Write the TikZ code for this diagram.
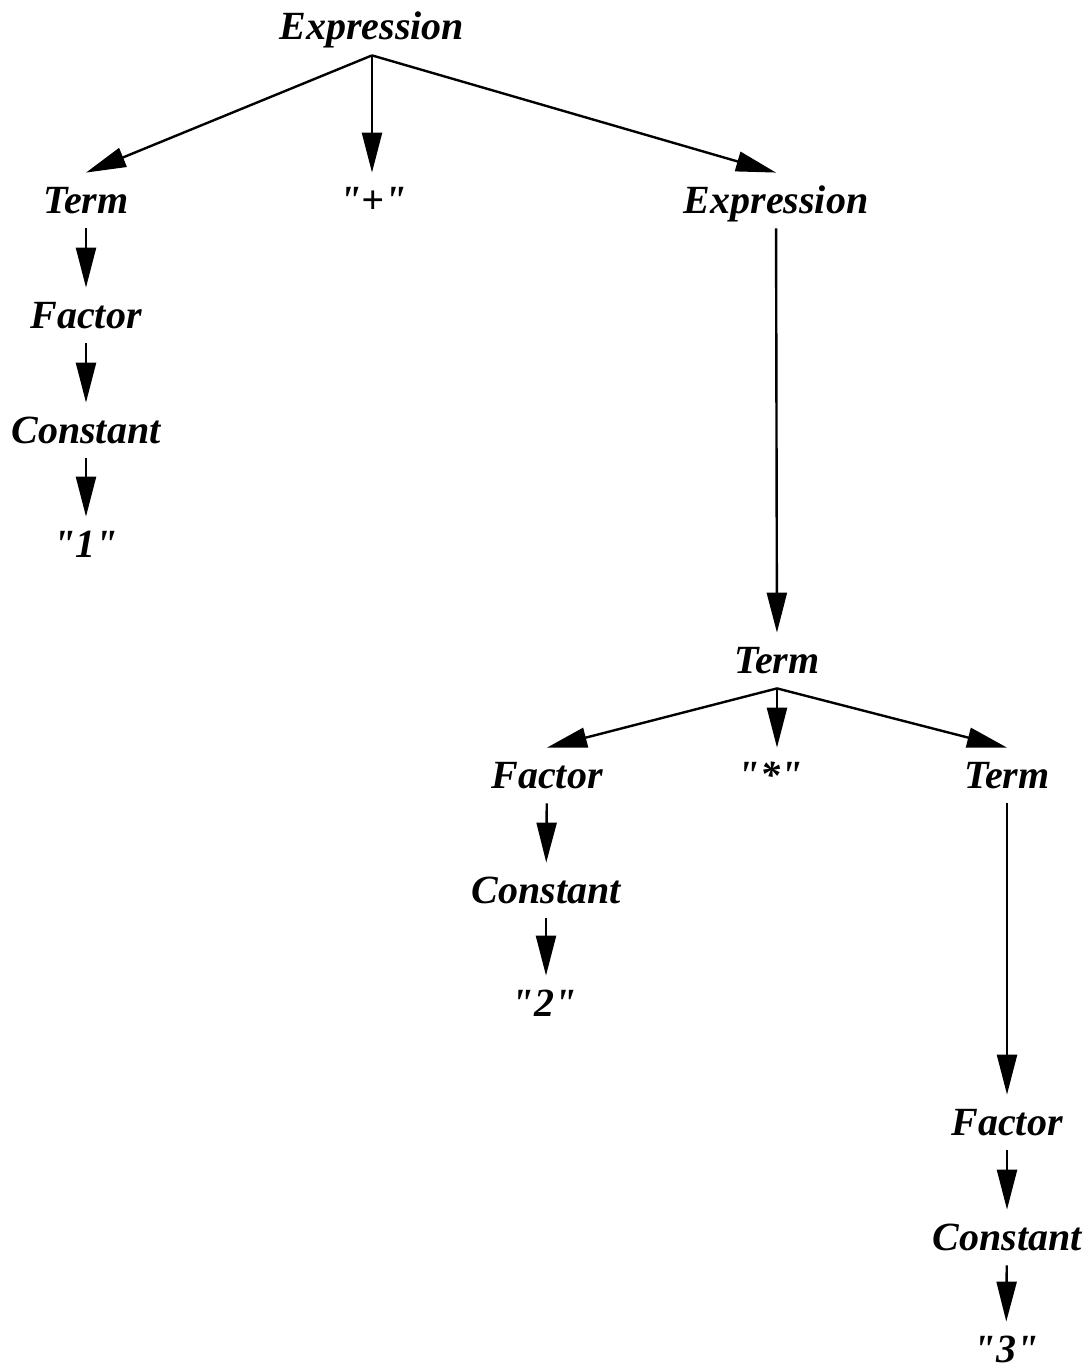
\documentclass[tikz,border=0pt]{standalone}
\usepackage{fontspec}
\setmainfont{Liberation Serif}[Ligatures=TeXOff]
\usetikzlibrary{arrows.meta}
\tikzset{
  sym/.style={anchor=base, inner sep=0pt, text height=20pt, text depth=7.5pt,
    font=\fontsize{20}{24}\selectfont\bfseries\itshape},
  arr/.style={line width=1.2pt, -{Triangle[length=20pt,width=10pt]}}
}

\begin{document}
\begin{tikzpicture}[x=0.5pt, y={(0pt,-0.5pt)}]
		%%%%% START %%%%%
		\useasboundingbox (0,0) rectangle (1091,1370);
		
		\node[sym] (expr) at (372, 40) {Expression};
		
		\node[sym] (term) at (86, 213) {Term};
		\node[sym] (plus) at (373, 213) {"+"};
		\node[sym] (exprb) at (776, 213) {Expression};
		
		\node[sym] (fact) at (86, 328) {Factor};
		\node[sym] (const) at (86, 443) {Constant};
		\node[sym] (one) at (86, 557) {"1"};
		
		\node[sym] (termb) at (777, 673) {Term};
		
		\node[sym] (factb) at (547, 788) {Factor};
		\node[sym] (star) at (770, 788) {"*"};
		\node[sym] (termc) at (1007, 788) {Term};
		
		\node[sym] (constb) at (546, 903) {Constant};
		\node[sym] (two) at (544, 1016) {"2"};
		
		\node[sym] (factc) at (1007, 1135) {Factor};
		\node[sym] (constc) at (1007, 1250) {Constant};
		\node[sym] (three) at (1006, 1362) {"3"};
		
		\draw[arr] (expr.south) -- (term.north);
		\draw[arr] (expr.south) -- (expr.south |- plus.north);
		\draw[arr] (expr.south) -- (exprb.north);
		
		\draw[arr] (term) -- (fact);
		\draw[arr] (fact) -- (const);
		\draw[arr] (const) -- (one);
		
		\draw[arr] (exprb) -- (termb);
		
		\draw[arr] (termb.south) -- (factb.north);
		\draw[arr] (termb.south) -- (termb.south |- star.north);
		\draw[arr] (termb.south) -- (termc.north);
		
		\draw[arr] (factb) -- (constb);
		\draw[arr] (constb) -- (constb |- two.north);
		
		\draw[arr] (termc) -- (factc);
		\draw[arr] (factc) -- (constc);
		\draw[arr] (constc) -- (three);
		%%%%% END %%%%%
\end{tikzpicture}
\end{document}
